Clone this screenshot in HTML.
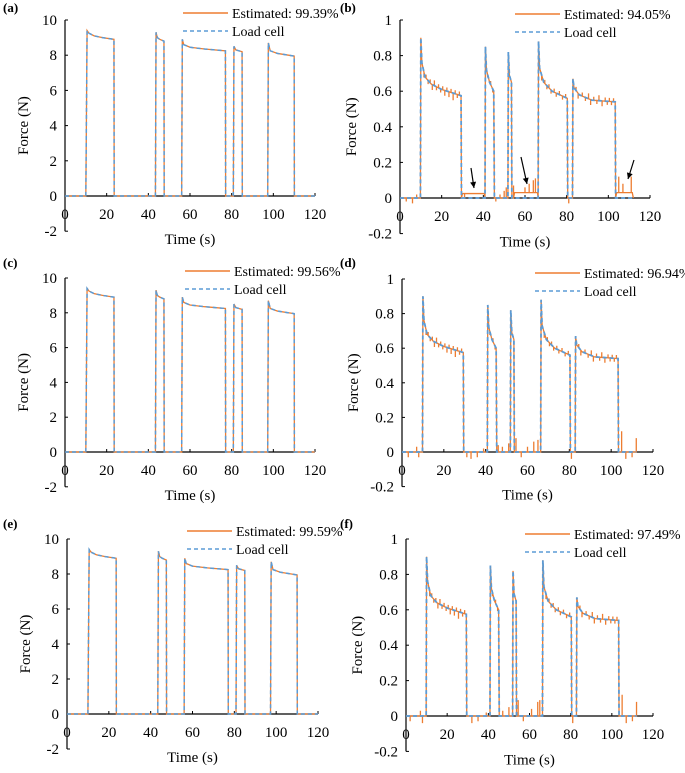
<!DOCTYPE html>
<html><head><meta charset="utf-8"><style>
html,body{margin:0;padding:0;background:#fff;}
svg{display:block;font-family:"Liberation Serif",serif;}
</style></head><body>
<svg id="chart" width="685" height="773" viewBox="0 0 685 773" xmlns="http://www.w3.org/2000/svg"></svg>
<script>
// ---- data ----
const xTicks = [0,20,40,60,80,100,120];
const bigYTicks = [-2,0,2,4,6,8,10];
const smallYTicks = [-0.2,0,0.2,0.4,0.6,0.8,1];
const smallYLabels = ["-0.2","0","0.2","0.4","0.6","0.8","1"];
// big-force trial (panels a, c, e): [time, force]
const bigTimes  = [0,10,10.6,11.5,14,18,23.5,23.6,43.4,43.7,44.3,45.5,47.5,47.6,56,56.3,57,60,67,77,77.1,80.8,81.1,82,85,85.1,97.3,97.6,98.5,102,110,110.1,120];
const bigLoad   = [0,0,9.4,9.25,9.1,9.0,8.9,0,0,9.3,9.0,8.9,8.8,0,0,8.9,8.6,8.45,8.35,8.25,0,0,8.5,8.3,8.2,0,0,8.7,8.25,8.1,7.95,0,0];
// small-force trial (panels b, d, f)
const smallTimes = [0,9.8,10,10.5,12,15,20,29.3,29.5,40.8,41,41.5,43,45,45.3,51.8,52,52.5,53.5,53.7,66.3,66.5,67,69,73,80.3,80.5,82.8,83,83.5,86,92,103.3,103.5,112];
const smallLoad  = [0,0,0.9,0.76,0.68,0.64,0.61,0.575,0,0,0.85,0.72,0.65,0.6,0,0,0.82,0.69,0.65,0,0,0.88,0.73,0.65,0.6,0.56,0,0,0.67,0.62,0.58,0.55,0.54,0,0];
// estimated-signal offsets in panel b: [start, end, offset]
const bOffsets = [[30,40.8,0.025],[55,66.3,0.03],[104,112,0.03]];
// plateau noise on estimated signal (shared by small panels): [time, delta]
const plateauSpikes = [[11.5,-0.03],[12.5,0.02],[13.5,-0.02],[14.5,0.02],[15.5,-0.03],[16.5,0.03],[17.5,-0.02],[18.5,0.02],[19.5,-0.02],[20.5,0.02],[21.5,-0.03],[22.5,0.02],[23.5,-0.03],[24.5,0.02],[25.5,-0.04],[26.5,0.02],[27.5,-0.02],[28.5,0.02],[42,-0.02],[43.5,0.02],[44.5,-0.02],[68,-0.03],[69.5,0.02],[70.5,-0.02],[71.5,0.02],[72.5,-0.02],[74,0.02],[75,-0.02],[76.5,0.02],[78,-0.02],[79.5,0.02],[84.5,0.02],[85.5,-0.03],[87.5,0.02],[89,-0.02],[90.5,0.03],[91.5,-0.03],[93,0.02],[94.5,-0.02],[95.5,0.03],[97,-0.03],[98.5,0.02],[99.5,-0.02],[100.5,0.02],[101.5,-0.02],[102.5,0.02]];
// estimated-signal spikes near zero: [time, delta]
const bSpikes = [[3,-0.02],[6,-0.03],[8,0.02],[31,-0.03],[46,-0.02],[48,0.02],[50,0.04],[51,0.06],[54.5,0.07],[60,0.03],[62,0.05],[64,0.07],[65,0.08],[81,-0.03],[105,0.09],[107,0.05],[111,0.09]];
const dSpikes = [[3,-0.03],[7,0.03],[8,-0.03],[31,-0.03],[33,-0.04],[36,-0.03],[39,0.02],[46,0.04],[48,0.03],[51,0.05],[54.5,0.08],[57,-0.03],[60,0.03],[63,0.06],[65,0.07],[81,-0.04],[105,0.12],[107,-0.04],[110,-0.03],[112,0.08]];
const fSpikes = [[2,-0.03],[7,0.03],[8,-0.04],[32,-0.04],[35,-0.03],[39,0.02],[47,0.03],[50,0.05],[54.5,0.09],[57,-0.03],[61,0.04],[64,0.08],[65,0.09],[81,-0.04],[105,0.12],[107,-0.04],[110,-0.03],[112,0.08]];
const accuracies = ["99.39%","94.05%","99.56%","96.94%","99.59%","97.49%"];

const panels = [
 {id:"a",ax:65,ex:315,yTop:20,y0:196,yMax:10,big:true,leg:[183,13],lbl:[3,12]},
 {id:"b",ax:400,ex:650,yTop:20,y0:198,yMax:1,big:false,spikes:bSpikes,offs:bOffsets,leg:[515,14],lbl:[340,12]},
 {id:"c",ax:65,ex:315,yTop:278,y0:452,yMax:10,big:true,leg:[185,271],lbl:[3,267]},
 {id:"d",ax:402,ex:653,yTop:279,y0:452,yMax:1,big:false,spikes:dSpikes,offs:[],leg:[535,273],lbl:[340,267]},
 {id:"e",ax:67,ex:318,yTop:539,y0:714,yMax:10,big:true,leg:[187,531],lbl:[3,528]},
 {id:"f",ax:406,ex:653,yTop:539,y0:716,yMax:1,big:false,spikes:fSpikes,offs:[],leg:[525,534],lbl:[340,528]}
];
const NS="http://www.w3.org/2000/svg";
const svg=document.getElementById("chart");
function mk(tag,attrs,parent){const e=document.createElementNS(NS,tag);for(const k in attrs)e.setAttribute(k,attrs[k]);(parent||svg).appendChild(e);return e;}
function interp(ts,vs,t){if(t<=ts[0])return vs[0];for(let i=1;i<ts.length;i++){if(t<=ts[i]){const f=(t-ts[i-1])/(ts[i]-ts[i-1]);return vs[i-1]+f*(vs[i]-vs[i-1]);}}return vs[vs.length-1];}

panels.forEach((p,pi)=>{
  const g=mk("g",{});
  
  
  const xs=t=>p.ax+t*(p.ex-p.ax)/120;
  const ys=v=>p.y0-v*(p.y0-p.yTop)/p.yMax;
  const yMin=p.big?-2:-0.2;
  const ya=mk("line",{x1:p.ax,y1:ys(p.yMax),x2:p.ax,y2:ys(yMin),stroke:"#000","stroke-width":1.2},g);
  
  
  const xa=mk("line",{x1:p.ax,y1:p.y0,x2:p.ex,y2:p.y0,stroke:"#000","stroke-width":1.2},g);
  
  
  const yT=p.big?bigYTicks:smallYTicks;
  yT.forEach((v,i)=>{
    mk("line",{x1:p.ax,y1:ys(v),x2:p.ax+3,y2:ys(v),stroke:"#000"},g);
    const t=mk("text",{x:p.ax-8,y:ys(v)+5,"text-anchor":"end","font-size":15},g);
    t.textContent=p.big?String(v):smallYLabels[i];
    
    
  });
  xTicks.forEach(v=>{
    mk("line",{x1:xs(v),y1:p.y0,x2:xs(v),y2:p.y0-3,stroke:"#000"},g);
    const t=mk("text",{x:xs(v),y:p.y0+23,"text-anchor":"middle","font-size":15},g);
    t.textContent=String(v);
    
    
  });
  const yl=mk("text",{transform:`translate(${p.ax-(p.big?37:44)},${(ys(p.yMax)+ys(yMin))/2}) rotate(-90)`,"text-anchor":"middle","font-size":15},g);
  yl.textContent="Force (N)";
  
  
  const xl=mk("text",{x:(p.ax+p.ex)/2,y:ys(yMin)+13,"text-anchor":"middle","font-size":15},g);
  xl.textContent="Time (s)";
  
  
  const pl=mk("text",{x:p.lbl[0],y:p.lbl[1],"font-size":13,"font-weight":"bold"},g);
  pl.textContent="("+p.id+")";
  
  
  const ts=p.big?bigTimes:smallTimes, vs=p.big?bigLoad:smallLoad;
  let loadD="", estD="";
  ts.forEach((t,i)=>{loadD+=(i?"L":"M")+xs(t).toFixed(2)+","+ys(vs[i]).toFixed(2);});
  if(p.big){estD=loadD;}
  else{
    const pts=[];
    const sp={};
    plateauSpikes.forEach(s=>sp[s[0]]=s[1]);
    p.spikes.forEach(s=>sp[s[0]]=s[1]);
    const keys=new Set(ts.map(t=>t));
    for(let t=0;t<=112;t+=0.5)keys.add(t);
    Object.keys(sp).forEach(k=>keys.add(+k));
    [...keys].sort((a,b)=>a-b).forEach(t=>{
      let v=interp(ts,vs,t);
      p.offs.forEach(o=>{if(t>=o[0]&&t<o[1])v+=o[2];});
      pts.push([t,v]);
      if(sp[t]!==undefined){pts.push([t,v+sp[t]]);pts.push([t,v]);}
    });
    pts.forEach((q,i)=>{estD+=(i?"L":"M")+xs(q[0]).toFixed(2)+","+ys(q[1]).toFixed(2);});
  }
  const es=mk("path",{d:estD,fill:"none",stroke:"#ED7D31","stroke-width":1.3},g);
  
  
  const ls=mk("path",{d:loadD,fill:"none",stroke:"#5B9BD5","stroke-width":p.big?1.5:1.8,"stroke-dasharray":"4,3"},g);
  
  
  const [lx,ly]=p.leg;
  const lg=mk("g",{},g);
  
  
  mk("line",{x1:lx,y1:ly,x2:lx+45,y2:ly,stroke:"#ED7D31","stroke-width":1.5},lg);
  const t1=mk("text",{x:lx+49,y:ly+5,"font-size":14},lg);
  t1.textContent="Estimated: "+accuracies[pi];
  
  
  mk("line",{x1:lx,y1:ly+18,x2:lx+45,y2:ly+18,stroke:"#5B9BD5","stroke-width":1.5,"stroke-dasharray":"4,3"},lg);
  const t2=mk("text",{x:lx+49,y:ly+23,"font-size":14},lg);
  t2.textContent="Load cell";
  
  
});
const arrows=[[471,168,474,188],[521,157,527,184],[634,160,628,179]];
arrows.forEach(a=>{
  const g=mk("g",{});
  
  
  mk("line",{x1:a[0],y1:a[1],x2:a[2],y2:a[3],stroke:"#000","stroke-width":1.2},g);
  const ang=Math.atan2(a[3]-a[1],a[2]-a[0]);
  const L=6,W=3;
  const bx=a[2]-L*Math.cos(ang),by=a[3]-L*Math.sin(ang);
  mk("polygon",{points:`${a[2]},${a[3]} ${bx-W*Math.sin(ang)},${by+W*Math.cos(ang)} ${bx+W*Math.sin(ang)},${by-W*Math.cos(ang)}`,fill:"#000"},g);
});
</script>
</body></html>
